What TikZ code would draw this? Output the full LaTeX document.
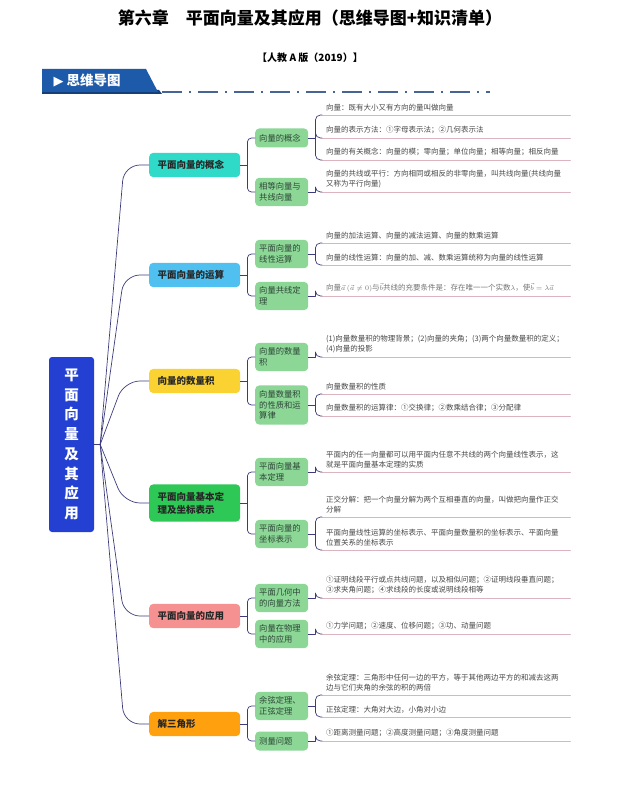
\documentclass[tikz,border=0pt]{standalone}
\usepackage{fontspec}
\setmainfont{Noto Sans CJK SC}
\newfontfamily\symfont{DejaVu Sans}
\usetikzlibrary{calc}
\definecolor{rootblue}{RGB}{35,64,210}
\definecolor{bannerblue}{RGB}{30,90,170}
\definecolor{dashblue}{RGB}{70,100,150}
\definecolor{linknavy}{RGB}{60,60,125}
\definecolor{ulpink}{RGB}{218,180,190}
\definecolor{subgreen}{RGB}{140,214,150}
\definecolor{subtext}{RGB}{45,70,55}
\definecolor{cconcept}{RGB}{47,218,200}
\definecolor{coper}{RGB}{80,192,240}
\definecolor{cdot}{RGB}{250,210,50}
\definecolor{cbasis}{RGB}{45,200,85}
\definecolor{capply}{RGB}{246,145,145}
\definecolor{ctri}{RGB}{255,160,15}
\tikzset{
  rootbox/.style={fill=rootblue, rounded corners=3pt, minimum width=45pt, minimum height=175pt,
    text=white, align=center, font=\fontsize{14.5}{19.7}\selectfont\bfseries},
  topic/.style={rounded corners=4pt, anchor=west, minimum width=91pt, minimum height=24pt,
    text width=74pt, inner xsep=8.5pt, inner ysep=7.5pt, align=left, text=black!85,
    font=\fontsize{9.5}{13}\selectfont\bfseries},
  sub/.style={fill=subgreen, rounded corners=4pt, anchor=west, minimum width=53pt, minimum height=19pt,
    text width=45pt, inner xsep=4pt, inner ysep=5pt, align=left, text=subtext,
    font=\fontsize{8.3}{10.7}\selectfont},
  leaf/.style={anchor=south west, text width=240pt, inner xsep=4pt, inner ysep=4pt, align=left,
    text=black!72, font=\fontsize{7.5}{9.8}\selectfont},
  link/.style={draw=linknavy, line width=0.7pt},
  uline/.style={draw=ulpink, line width=0.8pt}
}
\begin{document}
\begin{tikzpicture}[x=1pt, y=-1pt, line join=round, line cap=round]
\useasboundingbox (0,0) rectangle (621,786);

\node[font=\fontsize{17}{20}\selectfont\bfseries] (title) at (310,18) {第六章\quad 平面向量及其应用（思维导图+知识清单）};
\node[font=\fontsize{10}{12}\selectfont\bfseries] (edition) at (310,58) {【人教 A 版（2019）】};

\fill[bannerblue!70!black] (42,90) -- (159,90) -- (162,94) -- (42,94) -- cycle;
\fill[bannerblue] (42,69) -- (146,69) -- (158,92) -- (42,92) -- cycle;
\node[anchor=west, text=white, font=\fontsize{13.5}{15}\selectfont\bfseries] (banner) at (50,80.5) {{\symfont\fontsize{13}{15}\selectfont ▶}\kern3pt 思维导图};
\draw[dashblue, line width=2.5pt, line cap=butt, dash pattern=on 20pt off 7pt on 2pt off 7pt] (162,92) -- (490,92);

\node[rootbox] (root) at (71.5,444.5) {平\\面\\向\\量\\及\\其\\应\\用};

\node[topic, fill=cconcept] (concept) at (149,165) {平面向量的概念};
\node[topic, fill=coper] (oper) at (149,275) {平面向量的运算};
\node[topic, fill=cdot] (dotp) at (149,381) {向量的数量积};
\node[topic, fill=cbasis] (basis) at (149,503) {平面向量基本定\\理及坐标表示};
\node[topic, fill=capply] (apply) at (149,616) {平面向量的应用};
\node[topic, fill=ctri] (tri) at (149,724) {解三角形};

\node[sub] (defn) at (255,138) {向量的概念};
\node[sub] (colin) at (255,192) {相等向量与\\共线向量};
\node[sub] (linop) at (255,254) {平面向量的\\线性运算};
\node[sub] (colthm) at (255,296) {向量共线定\\理};
\node[sub] (dotdef) at (255,357) {向量的数量\\积};
\node[sub] (dotlaw) at (255,405) {向量数量积\\的性质和运\\算律};
\node[sub] (basthm) at (255,472) {平面向量基\\本定理};
\node[sub] (coord) at (255,534) {平面向量的\\坐标表示};
\node[sub] (geom) at (255,598) {平面几何中\\的向量方法};
\node[sub] (phys) at (255,634) {向量在物理\\中的应用};
\node[sub] (sine) at (255,706) {余弦定理、\\正弦定理};
\node[sub] (meas) at (255,741) {测量问题};

\node[leaf] (defn1) at (322,115) {向量：既有大小又有方向的量叫做向量};
\node[leaf] (defn2) at (322,138) {向量的表示方法：①字母表示法；②几何表示法};
\node[leaf] (defn3) at (322,160) {向量的有关概念：向量的模；零向量；单位向量；相等向量；相反向量};
\node[leaf] (colin1) at (322,192) {向量的共线或平行：方向相同或相反的非零向量，叫共线向量(共线向量\\又称为平行向量)};
\node[leaf] (linop1) at (322,243) {向量的加法运算、向量的减法运算、向量的数乘运算};
\node[leaf] (linop2) at (322,265) {向量的线性运算：向量的加、减、数乘运算统称为向量的线性运算};
\node[leaf, text=black!55] (colthm1) at (322,296) {向量$\vec{a}\,(\vec{a}\neq 0)$与$\vec{b}$共线的充要条件是：存在唯一一个实数$\lambda$，使$\vec{b}=\lambda\vec{a}$};
\node[leaf] (dotdef1) at (322,357) {(1)向量数量积的物理背景；(2)向量的夹角；(3)两个向量数量积的定义；\\(4)向量的投影};
\node[leaf] (dotlaw1) at (322,394) {向量数量积的性质};
\node[leaf] (dotlaw2) at (322,416) {向量数量积的运算律：①交换律；②数乘结合律；③分配律};
\node[leaf] (basthm1) at (322,472) {平面内的任一向量都可以用平面内任意不共线的两个向量线性表示，这\\就是平面向量基本定理的实质};
\node[leaf] (coord1) at (322,517) {正交分解：把一个向量分解为两个互相垂直的向量，叫做把向量作正交\\分解};
\node[leaf] (coord2) at (322,550) {平面向量线性运算的坐标表示、平面向量数量积的坐标表示、平面向量\\位置关系的坐标表示};
\node[leaf] (geom1) at (322,598) {①证明线段平行或点共线问题，以及相似问题；②证明线段垂直问题；\\③求夹角问题；④求线段的长度或说明线段相等};
\node[leaf] (phys1) at (322,634) {①力学问题；②速度、位移问题；③功、动量问题};
\node[leaf] (sine1) at (322,695) {余弦定理：三角形中任何一边的平方，等于其他两边平方的和减去这两\\边与它们夹角的余弦的积的两倍};
\node[leaf] (sine2) at (322,717) {正弦定理：大角对大边，小角对小边};
\node[leaf] (meas1) at (322,741) {①距离测量问题；②高度测量问题；③角度测量问题};

\foreach \l in {defn1,defn2,defn3,colin1,linop1,linop2,colthm1,dotdef1,dotlaw1,dotlaw2,
    basthm1,coord1,coord2,geom1,phys1,sine1,sine2,meas1}
  \draw[uline] (\l.south west) -- (\l.south east);

\draw[link] (root.east) -- ++(6,0) coordinate (rj);
\foreach \t in {concept,oper,dotp,basis,apply,tri}
  \draw[link, rounded corners=16pt] (rj) -- ($(\t.west)+(-25,0)$) -- (\t.west);

\foreach \t/\a/\b in {concept/defn/colin, oper/linop/colthm, dotp/dotdef/dotlaw,
    basis/basthm/coord, apply/geom/phys, tri/sine/meas}{
  \draw[link] (\t.east) -- ++(7,0) coordinate (tj);
  \draw[link, rounded corners=4pt] (tj) |- (\a.west);
  \draw[link, rounded corners=4pt] (tj) |- (\b.west);
}

\foreach \s/\l in {defn/defn1, defn/defn2, defn/defn3, colin/colin1, linop/linop1, linop/linop2,
    colthm/colthm1, dotdef/dotdef1, dotlaw/dotlaw1, dotlaw/dotlaw2, basthm/basthm1,
    coord/coord1, coord/coord2, geom/geom1, phys/phys1, sine/sine1, sine/sine2, meas/meas1}{
  \draw[link] (\s.east) -- ++(7,0) coordinate (sj);
  \draw[link, rounded corners=5pt] (sj) |- (\l.south west);
}
\end{tikzpicture}
\end{document}
